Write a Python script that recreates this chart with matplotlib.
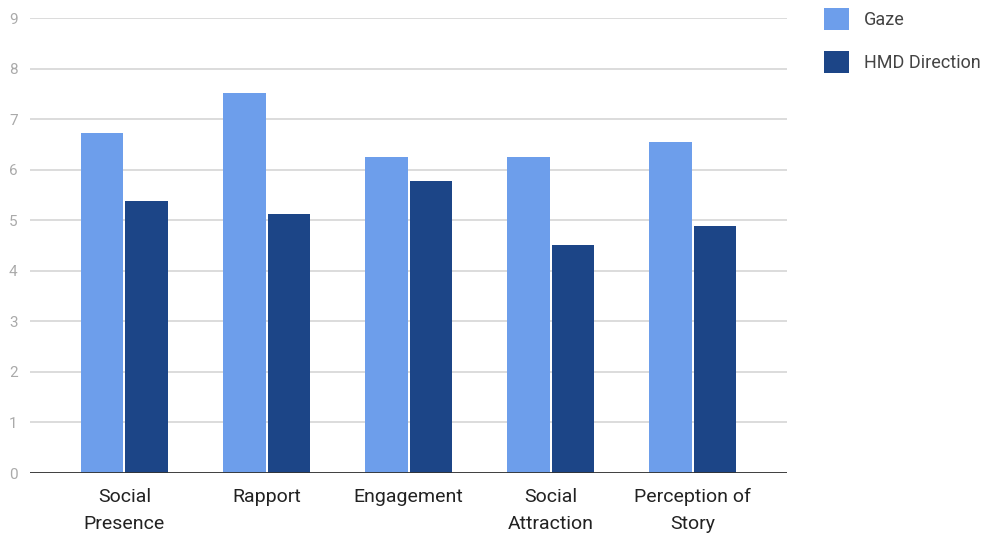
import numpy as np
import matplotlib.pyplot as plt

# survey scores per condition
categories = ['Social\nPresence', 'Rapport', 'Engagement', 'Social\nAttraction', 'Perception of\nStory']
gaze = [6.73, 7.52, 6.25, 6.25, 6.54]
hmd = [5.38, 5.12, 5.78, 4.51, 4.89]
series_names = ['Gaze', 'HMD Direction']

plt.rcParams['font.family'] = ['Roboto', 'DejaVu Sans']

fig = plt.figure(figsize=(9.85, 5.39), dpi=100)
ax = fig.add_axes([0.0305, 0.1224, 0.7685, 0.844])

x = np.arange(len(categories))
w = 0.30
ax.bar(x - w / 2 - 0.007, gaze, w, color='#6d9eeb', label=series_names[0], zorder=3)
ax.bar(x + w / 2 + 0.007, hmd, w, color='#1c4587', label=series_names[1], zorder=3)

ax.set_xlim(-0.665, 4.665)
ax.set_ylim(0, 9)
ax.set_yticks(range(10))
ax.yaxis.grid(True, color='#d9d9d9', linewidth=1.3, zorder=0)
ax.axhline(0, color='#333333', linewidth=1.3, zorder=4)

ax.set_xticks(x)
ax.set_xticklabels(categories, fontsize=14, color='#222222', linespacing=1.6)
ax.tick_params(axis='x', length=0, pad=11)
ax.tick_params(axis='y', length=0, pad=9, labelsize=11, labelcolor='#aaaaaa')
for s in ax.spines.values():
    s.set_visible(False)

fig.legend(loc='upper left', bbox_to_anchor=(0.82, 1.016), frameon=False,
           fontsize=13, labelcolor='#444444', handlelength=1.4, handleheight=1.5,
           labelspacing=1.2, handletextpad=0.8)

plt.savefig('out.png', dpi=100)
